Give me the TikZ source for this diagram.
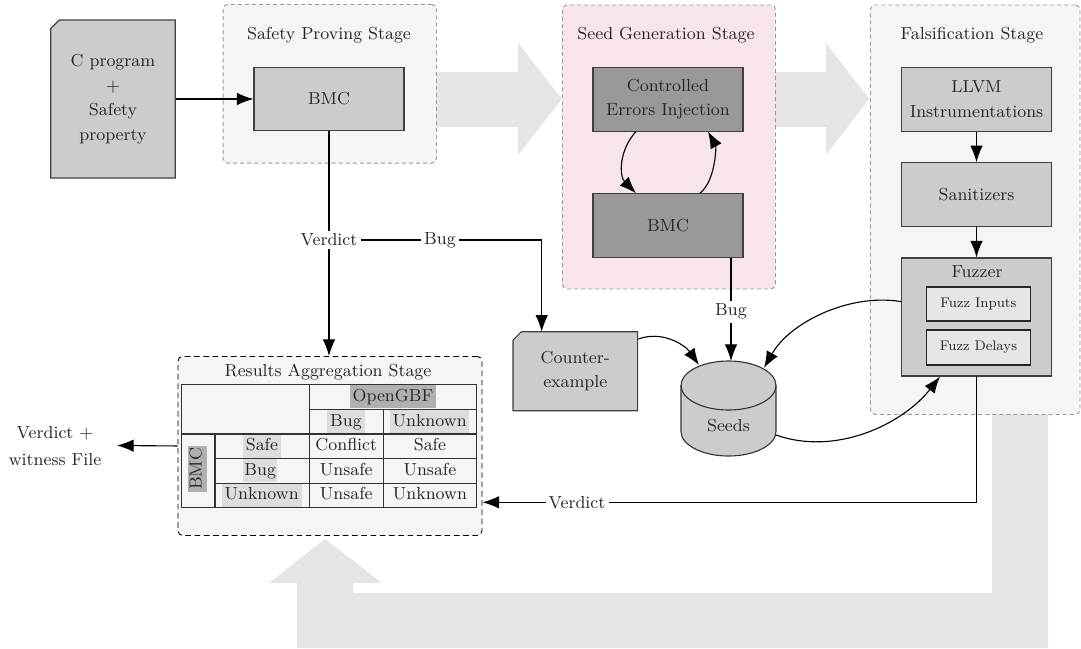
\documentclass[tikz,border=0pt]{standalone}
\usetikzlibrary{arrows.meta,shapes.misc}
\definecolor{boxgray}{HTML}{CCCCCC}
\definecolor{darkbox}{HTML}{999999}
\definecolor{stagefill}{HTML}{F5F5F5}
\definecolor{pinkfill}{HTML}{F8E5EC}
\definecolor{bandgray}{HTML}{E5E5E5}
\definecolor{innerbox}{HTML}{E6E6E6}
\definecolor{hllight}{HTML}{DDDDDD}
\definecolor{hldark}{HTML}{B0B0B0}
\newcommand\PX{0.54pt}
\begin{document}
\begin{tikzpicture}[x=0.54pt,y=-0.54pt]
\tikzset{
  every node/.style={font=\fontsize{9.4}{13.2}\selectfont, text=black!85},
  stage/.style={draw=black!40, dash pattern=on 2.2pt off 1.6pt, line width=0.5pt, rounded corners=2.5pt, fill=stagefill, inner sep=0, anchor=north west},
  proc/.style={draw=black!75, line width=0.6pt, fill=boxgray, align=center, minimum width=150*\PX, minimum height=63.5*\PX, inner sep=0},
  darkproc/.style={proc, fill=darkbox},
  doc/.style={chamfered rectangle, chamfered rectangle corners=north west, chamfered rectangle xsep=2.3pt, chamfered rectangle ysep=2.3pt, draw=black!75, line width=0.6pt, fill=boxgray, align=center, inner sep=0},
  inner/.style={draw=black!85, line width=0.6pt, fill=innerbox, minimum width=103.5*\PX, minimum height=34*\PX, inner sep=0, font=\fontsize{7.5}{9}\selectfont},
  lbl/.style={fill=white, inner sep=1.5pt},
  arr/.style={-{Latex[length=9pt,width=6.8pt]}, line width=0.6pt, black},
  conn/.style={line width=0.6pt, black},
  cell/.style={inner sep=0, text height=6.8pt, text depth=2pt, minimum height=23*\PX},
  tline/.style={draw=black!80, line width=0.6pt}
}
\useasboundingbox (0,0) rectangle (1081,648);

% big grey arrows
\fill[bandgray] (992,414) -- (1048,414) -- (1048,648) -- (297,648) -- (297,583) -- (269,583) -- (325,539) -- (382,583) -- (353,583) -- (353,593) -- (992,593) -- cycle;
\fill[bandgray] (436,72) -- (518,72) -- (518,43) -- (562,99) -- (518,155) -- (518,127) -- (436,127) -- cycle;
\fill[bandgray] (775,72) -- (826,72) -- (826,43) -- (869,99) -- (826,155) -- (826,127) -- (775,127) -- cycle;

% stages
\node[stage, minimum width=213.3*\PX, minimum height=158.7*\PX] (safety) at (222.7,4) {};
\node[stage, fill=pinkfill, minimum width=213*\PX, minimum height=284*\PX] (seedstage) at (562,4.5) {};
\node[stage, minimum width=209.5*\PX, minimum height=409.5*\PX] (falsif) at (870,4.5) {};
\node[stage, draw=black, densely dashed, minimum width=304*\PX, minimum height=179*\PX] (results) at (177.5,356) {};

\node (safetytitle) at (329,35) {Safety Proving Stage};
\node (seedtitle) at (666,35) {Seed Generation Stage};
\node (falsiftitle) at (972,35) {Falsification Stage};
\node (resultstitle) at (328,371.7) {Results Aggregation Stage};

% input document
\node[doc, minimum width=124.5*\PX, minimum height=158*\PX] (cprog) at (113,99) {C program\\+\\Safety\\property};

% processing boxes
\node[proc] (bmc1) at (329,99) {BMC};
\node[darkproc] (cei) at (668,99.3) {Controlled\\Errors Injection};
\node[darkproc] (bmc2) at (668,225.5) {BMC};
\node[proc, minimum width=149.5*\PX] (llvm) at (976.5,99.3) {LLVM\\Instrumentations};
\node[proc, minimum width=149.5*\PX] (sanit) at (976.5,194.5) {Sanitizers};
\node[proc, minimum width=149.5*\PX, minimum height=118*\PX] (fuzzer) at (976.5,317) {};
\node (fuzzertitle) at (977,272) {Fuzzer};
\node[inner] (fuzzin) at (978.5,304) {Fuzz Inputs};
\node[inner, minimum height=35*\PX] (fuzzdel) at (978.5,347.5) {Fuzz Delays};

% counterexample
\node[doc, minimum width=124.7*\PX, minimum height=79*\PX] (ce) at (575.3,371.2) {Counter-\\example};

% seeds cylinder
\filldraw[fill=boxgray, draw=black!80, line width=0.6pt]
  (681,385.5) -- (681,431.5) arc[start angle=180, end angle=360, x radius=25.65pt, y radius=13.23pt]
  -- (776,385.5) arc[start angle=0, end angle=180, x radius=25.65pt, y radius=13.23pt] -- cycle;
\draw[draw=black!80, line width=0.6pt] (681,385.5) arc[start angle=180, end angle=360, x radius=25.65pt, y radius=13.23pt];
\node[minimum width=95*\PX, minimum height=95*\PX, inner sep=0] (seeds) at (728.5,408.5) {};
\node (seedslbl) at (728.5,426) {Seeds};

% helper coordinates
\coordinate (cein) at (541.7,331.7);
\coordinate (seedtop) at (731,361);
\coordinate (seedA) at (699,365);
\coordinate (seedB) at (764,368);
\coordinate (seedC) at (776,435);
\coordinate (outtip) at (117,445.5);

% labels on connectors
\node[lbl] (verd1) at (329,240) {Verdict};
\node[lbl] (bug1) at (440,240) {Bug};
\node[lbl] (bug2) at (731,311.7) {Bug};
\node[lbl] (verd2) at (577,502.3) {Verdict};

% connectors
\draw[arr] (cprog.east |- bmc1.west) -- (bmc1.west);
\draw[conn] (bmc1.south) -- (verd1.north);
\draw[arr] (verd1.south) -- (verd1.south |- results.north);
\draw[conn] (verd1.east) -- (bug1.west);
\draw[arr] (bug1.east) -| (cein);
\draw[arr] ([xshift=-17.3pt]cei.south) .. controls (619,150) and (619,176) .. ([xshift=-17.3pt]bmc2.north);
\draw[arr] ([xshift=17.3pt]bmc2.north) .. controls (716,180) and (716,146) .. ([xshift=21.6pt]cei.south);
\draw[conn] (bmc2.south -| bug2) -- (bug2.north);
\draw[arr] (bug2.south) -- (seedtop);
\draw[arr] (llvm.south) -- (sanit.north);
\draw[arr] (sanit.south) -- (fuzzer.north);
\draw[arr] ([yshift=-4.3pt]ce.north east) .. controls (662,330) and (685,345) .. (seedA);
\draw[arr] ([yshift=8.3pt]fuzzer.west) .. controls (850,293) and (790,322) .. (seedB);
\draw[arr] (seedC) .. controls (835,456) and (902,425) .. ([xshift=-19.7pt]fuzzer.south);
\draw[conn] (fuzzer.south) |- (verd2.east);
\draw[arr] (verd2.west) -- (results.east |- verd2.west);
\draw[arr] (results.west) -- (outtip);
\node[align=center, font=\fontsize{9.4}{15}\selectfont] (out) at (55,446) {Verdict +\\witness File};

% table
\draw[tline] (181.7,384.3) rectangle (476.7,507.3);
\draw[tline] (309.3,409.3) -- (476.7,409.3);
\draw[tline] (181.7,434) -- (476.7,434);
\draw[tline] (215,458.3) -- (476.7,458.3);
\draw[tline] (215,483.3) -- (476.7,483.3);
\draw[tline] (215,434) -- (215,507.3);
\draw[tline] (309.3,384.3) -- (309.3,507.3);
\draw[tline] (383.3,409.3) -- (383.3,507.3);

\node[cell, fill=hldark, minimum width=86.7*\PX] (opengbf) at (393,396.8) {OpenGBF};
\node[cell, fill=hllight, minimum width=38*\PX] (hbug) at (346,421.6) {Bug};
\node[cell, fill=hllight, minimum width=79*\PX] (hunk) at (429.7,421.6) {Unknown};
\node[cell, fill=hllight, minimum width=38*\PX] (rsafe) at (262,446.2) {Safe};
\node[cell, fill=hllight, minimum width=34.3*\PX] (rbug) at (260.2,470.8) {Bug};
\node[cell, fill=hllight, minimum width=80*\PX] (runk) at (261.7,495.3) {Unknown};
\node[cell, fill=hldark, minimum width=45.7*\PX, minimum height=18.7*\PX, rotate=90] (rbmc) at (197.3,468.9) {BMC};
\node[cell] (c11) at (346.3,446.2) {Conflict};
\node[cell] (c12) at (430,446.2) {Safe};
\node[cell] (c21) at (346.3,470.8) {Unsafe};
\node[cell] (c22) at (430,470.8) {Unsafe};
\node[cell] (c31) at (346.3,495.3) {Unsafe};
\node[cell] (c32) at (430,495.3) {Unknown};
\end{tikzpicture}
\end{document}
